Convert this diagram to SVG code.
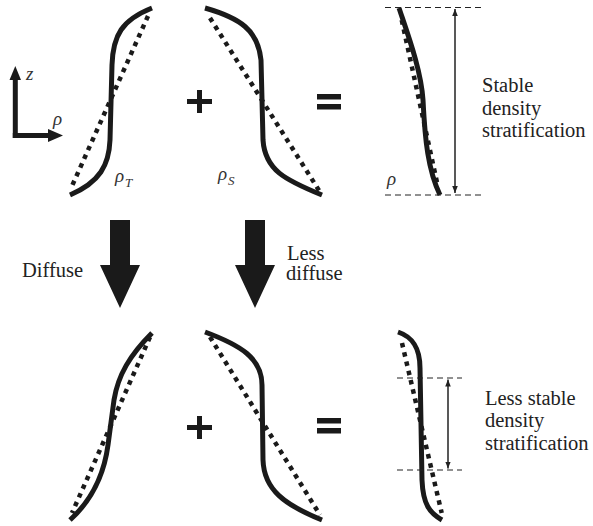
<svg xmlns="http://www.w3.org/2000/svg" width="593" height="526" viewBox="0 0 593 526">
<defs>
<style>
.solid{fill:none;stroke:#1a1a1a;stroke-width:5;stroke-linecap:butt}
.dot{fill:none;stroke:#1a1a1a;stroke-width:4.5;stroke-dasharray:4.5 5}
.dash{fill:none;stroke:#222;stroke-width:1;stroke-dasharray:6 4}
.thin{fill:none;stroke:#222;stroke-width:1.5}
.blk{fill:#1a1a1a}
.lbl{font-size:20.5px;fill:#222}
.sym{font-style:italic;font-size:19px;fill:#333}
.sub{font-style:italic;font-size:13px;fill:#333}
</style>
<marker id="ah" viewBox="0 0 10 10" refX="10" refY="5" markerWidth="7" markerHeight="7" orient="auto-start-reverse" markerUnits="userSpaceOnUse"><path d="M0,1 L10,5 L0,9 Z" fill="#222"/></marker>
</defs>
<rect width="593" height="526" fill="#fff"/>
<g font-family="'Liberation Serif', 'DejaVu Serif', serif">

<g id="axes">
<line x1="15.3" y1="138" x2="15.3" y2="78" stroke="#1a1a1a" stroke-width="5"/>
<polygon class="blk" points="15.3,66 9.5,80 21,80"/>
<line x1="12.8" y1="135.5" x2="50" y2="135.5" stroke="#1a1a1a" stroke-width="5"/>
<polygon class="blk" points="63,135.5 48,129 48,142"/>
<text class="sym" x="26" y="80">z</text>
<text class="sym" x="53" y="125">ρ</text>
</g>

<g id="rhoT-top">
<path class="dot" d="M148,16 L72,186"/>
<path class="solid" d="M152,8 C122,20 113,35 112,65 L110,140 C109,165 100,182 70,195"/>
<text class="sym" x="115" y="182">ρ</text><text class="sub" x="125" y="187">T</text>
</g>

<g id="plus-top"><rect class="blk" x="187" y="99" width="25" height="5"/><rect class="blk" x="197" y="90" width="5" height="23"/></g>

<g id="rhoS-top">
<path class="dot" d="M210,18 L320,192"/>
<path class="solid" d="M205,8 C240,18 258,30 261,60 L263,140 C265,170 285,180 322,195"/>
<text class="sym" x="218" y="180">ρ</text><text class="sub" x="228" y="185">S</text>
</g>

<g id="eq-top"><rect class="blk" x="317" y="94" width="24" height="5.5"/><rect class="blk" x="317" y="104" width="24" height="5.5"/></g>

<g id="rho-top">
<path class="dot" d="M401.7,20 L438,187"/>
<path class="solid" d="M399,8 C408,35 421,70 423,100 C425,140 428,170 440,195"/>
<line class="dash" x1="385" y1="7.5" x2="485" y2="7.5"/>
<line class="dash" x1="385" y1="195" x2="485" y2="195"/>
<text class="sym" x="387" y="185">ρ</text>
<text class="lbl" x="482" y="92">Stable</text>
<text class="lbl" x="482" y="114.5">density</text>
<text class="lbl" x="482" y="137">stratification</text>
</g>

<g id="arrow-diffuse">
<path class="blk" d="M110,220 H130 V265 H140 L120,308 L100,265 H110 Z"/>
<text class="lbl" x="22" y="277">Diffuse</text>
</g>
<g id="arrow-less">
<path class="blk" d="M245,220 H265 V265 H275 L255,308 L235,265 H245 Z"/>
<text class="lbl" x="287" y="260">Less</text>
<text class="lbl" x="286" y="280">diffuse</text>
</g>

<g id="rhoT-bottom">
<path class="dot" d="M150,337 L72,513"/>
<path class="solid" d="M152,333 C130,355 118,375 114,400 L108,445 C104,475 92,500 70,520"/>
</g>

<g id="plus-bottom"><rect class="blk" x="187" y="425" width="25" height="5"/><rect class="blk" x="197" y="416" width="5" height="23"/></g>

<g id="rhoS-bottom">
<path class="dot" d="M210,337 L320,515"/>
<path class="solid" d="M205,332 C240,345 262,358 262,385 L263,460 C264,490 285,505 322,520"/>
</g>

<g id="eq-bottom"><rect class="blk" x="317" y="418" width="24" height="5.5"/><rect class="blk" x="317" y="428" width="24" height="5.5"/></g>

<g id="rho-bottom">
<path class="dot" d="M402,343 L441.7,513"/>
<path class="solid" d="M398,332 C413,337 420,348 420,368 L422,480 C423,505 430,513 442,520"/>
<line class="dash" x1="397" y1="378" x2="462" y2="378"/>
<line class="dash" x1="397" y1="470" x2="462" y2="470"/>
<text class="lbl" x="485" y="405">Less stable</text>
<text class="lbl" x="485" y="427">density</text>
<text class="lbl" x="485" y="450">stratification</text>
</g>

<g id="connectors">
<line class="thin" x1="455" y1="9" x2="455" y2="193" marker-start="url(#ah)" marker-end="url(#ah)"/>
<line class="thin" x1="448" y1="379.5" x2="448" y2="468.5" marker-start="url(#ah)" marker-end="url(#ah)"/>
</g>
</g>
</svg>
